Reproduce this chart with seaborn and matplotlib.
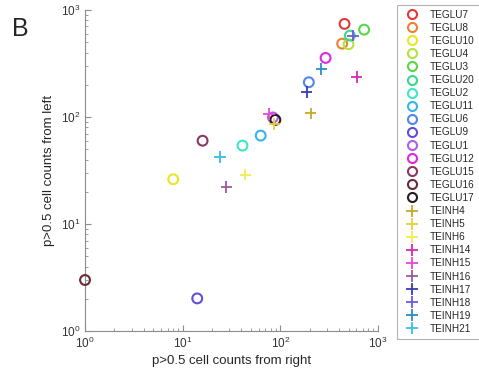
import matplotlib
matplotlib.use("Agg")
import matplotlib.pyplot as plt
from matplotlib.lines import Line2D
import pandas as pd
import seaborn as sns

# excitatory (open circles)
glu_names = ["TEGLU7", "TEGLU8", "TEGLU10", "TEGLU4", "TEGLU3", "TEGLU20", "TEGLU2",
             "TEGLU11", "TEGLU6", "TEGLU9", "TEGLU1", "TEGLU12", "TEGLU15", "TEGLU16", "TEGLU17"]
glu_right = [455, 430, 8.0, 500, 722, 516, 41, 63, 196, 14.1, 84, 291, 16.0, 1.0, 89]
glu_left = [740, 484, 26.2, 478, 654, 575, 54, 67, 211, 2.02, 99, 356, 60, 3.0, 94]
glu_colors = ["#e03a3a", "#f08030", "#e8e628", "#b4e43c", "#58d848", "#3cd88c", "#3ce6c8",
              "#38b4ec", "#5088e8", "#6050d8", "#b060e0", "#e028e0", "#8a3a62", "#6a2a3a", "#2a1c22"]

# inhibitory (plus markers)
inh_names = ["TEINH4", "TEINH5", "TEINH6", "TEINH14", "TEINH15", "TEINH16",
             "TEINH17", "TEINH18", "TEINH19", "TEINH21"]
inh_right = [204, 87, 44, 604, 77, 28, 186, 557, 264, 24]
inh_left = [108, 86, 29, 235, 107, 22.3, 171, 575, 281, 42]
inh_colors = ["#c8a828", "#e8d040", "#f4ec50", "#d42cb4", "#e848d8", "#9a5a9a",
              "#3a3ab8", "#6a5ae0", "#2a8cc8", "#3cbce8"]

sns.set_style("white")
plt.rcParams["font.family"] = ["Liberation Sans", "DejaVu Sans"]

glu = pd.DataFrame({"name": glu_names, "right": glu_right, "left": glu_left})
inh = pd.DataFrame({"name": inh_names, "right": inh_right, "left": inh_left})

fig = plt.figure(figsize=(4.79, 3.81), dpi=100)
ax = fig.add_axes([0.1775, 0.131, 0.6115, 0.843])
ax.set_xscale("log")
ax.set_yscale("log")

sns.scatterplot(data=glu, x="right", y="left", hue="name",
                palette=dict(zip(glu_names, glu_colors)), marker="o", s=50,
                linewidth=1.5, legend=False, ax=ax, clip_on=False, zorder=3)
circ = ax.collections[-1]
circ.set_edgecolors(circ.get_facecolors())
circ.set_facecolors("none")

sns.scatterplot(data=inh, x="right", y="left", hue="name",
                palette=dict(zip(inh_names, inh_colors)), marker="+", s=70,
                linewidth=1.3, legend=False, ax=ax, clip_on=False, zorder=3)

ax.set_xlim(1, 1000)
ax.set_ylim(1, 1000)
ax.set_xlabel("p>0.5 cell counts from right", fontsize=9.5, color="#262626", labelpad=3)
ax.set_ylabel("p>0.5 cell counts from left", fontsize=9.5, color="#262626", labelpad=4)

for s in ["top", "right"]:
    ax.spines[s].set_visible(False)
for s in ["left", "bottom"]:
    ax.spines[s].set_color("#8c8c8c")
    ax.spines[s].set_linewidth(0.8)
ax.tick_params(which="both", direction="in", colors="#8c8c8c", labelcolor="#333333",
               labelsize=8.5, left=True, bottom=True)
ax.tick_params(which="major", length=4, width=0.8)
ax.tick_params(which="minor", length=2.5, width=0.6)

handles = [Line2D([], [], ls="none", marker="o", mfc="none", mec=c, mew=1.5, ms=6.5)
           for c in glu_colors]
handles += [Line2D([], [], ls="none", marker="+", color=c, mew=1.3, ms=8)
            for c in inh_colors]
leg = fig.legend(handles, glu_names + inh_names, loc="upper left",
                 bbox_to_anchor=(0.829, 0.988), fontsize=7.2, frameon=True,
                 fancybox=False, edgecolor="#a0a0a0", labelspacing=0.31,
                 handlelength=2.0, handletextpad=0.8, borderpad=0.5, borderaxespad=0)
leg.get_frame().set_linewidth(0.8)

fig.text(0.025, 0.925, "B", fontsize=18, ha="left", va="center")

fig.savefig("out.png", dpi=100)
